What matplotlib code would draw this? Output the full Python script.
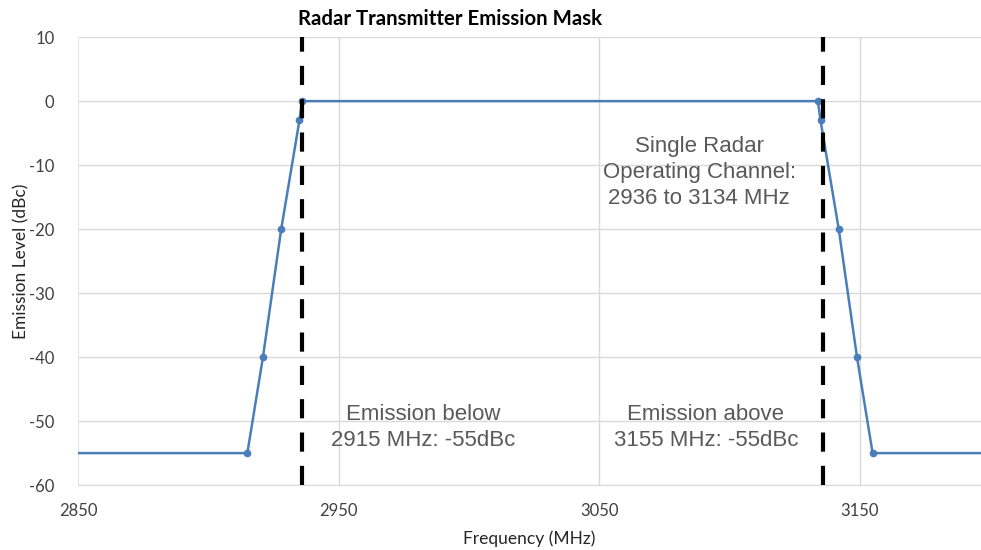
import matplotlib
matplotlib.use("Agg")
import matplotlib.pyplot as plt

# emission mask points (MHz, dBc)
freq = [2850, 2915, 2921, 2928, 2935, 2936, 3134, 3135, 3142, 3149, 3155, 3200]
level = [-55, -55, -40, -20, -3, 0, 0, -3, -20, -40, -55, -55]
channel_edges = [2936, 3136]
xticks = [2850, 2950, 3050, 3150]
yticks = [10, 0, -10, -20, -30, -40, -50, -60]

plt.rcParams['font.family'] = ['Lato', 'DejaVu Sans']
plt.rcParams['axes.unicode_minus'] = False

fig = plt.figure(figsize=(9.81, 5.5), dpi=100)
ax = fig.add_axes([0.0795, 0.118, 0.9205, 0.8145])

# grid
for yv in yticks:
    ax.axhline(yv, color='#d9d9d9', lw=1, zorder=0)
for xv in xticks[1:]:
    ax.axvline(xv, color='#d9d9d9', lw=1, zorder=0)

ax.plot(freq, level, color='#4a7ebb', lw=1.8, marker='o', markersize=4.5,
        markevery=list(range(1, len(freq) - 1)), zorder=3)

for xe in channel_edges:
    ax.axvline(xe, color='black', lw=3, dashes=(4.6, 3.4), zorder=4)

ax.set_xlim(2850, 3196.6)
ax.set_ylim(-60, 10)
ax.set_xticks(xticks)
ax.set_yticks(yticks)
for s in ['top', 'right']:
    ax.spines[s].set_visible(False)
ax.spines['bottom'].set_color('#d9d9d9')
ax.spines['left'].set_color('#e6e6e6')
ax.tick_params(axis='x', length=0, labelsize=12, colors='#404040', pad=13)
ax.tick_params(axis='y', length=0, labelsize=12, colors='#404040', pad=17)

ax.set_xlabel('Frequency (MHz)', fontsize=12.5, color='#262626', labelpad=8)
ax.set_ylabel('Emission Level (dBc)', fontsize=12.5, color='#262626', labelpad=0)
fig.text(0.459, 0.965, 'Radar Transmitter Emission Mask', fontsize=14.7,
         fontweight='bold', ha='center', va='center')

tfont = dict(family=['Liberation Sans', 'DejaVu Sans'], fontsize=16,
             color='#595959', ha='center', va='center', linespacing=1.32)
ax.text(3088.5, -11.2, 'Single Radar\nOperating Channel:\n2936 to 3134 MHz', **tfont)
ax.text(2982.5, -51.0, 'Emission below\n2915 MHz: -55dBc', **tfont)
ax.text(3091, -51.0, 'Emission above\n3155 MHz: -55dBc', **tfont)

fig.savefig('out.png', dpi=100)
